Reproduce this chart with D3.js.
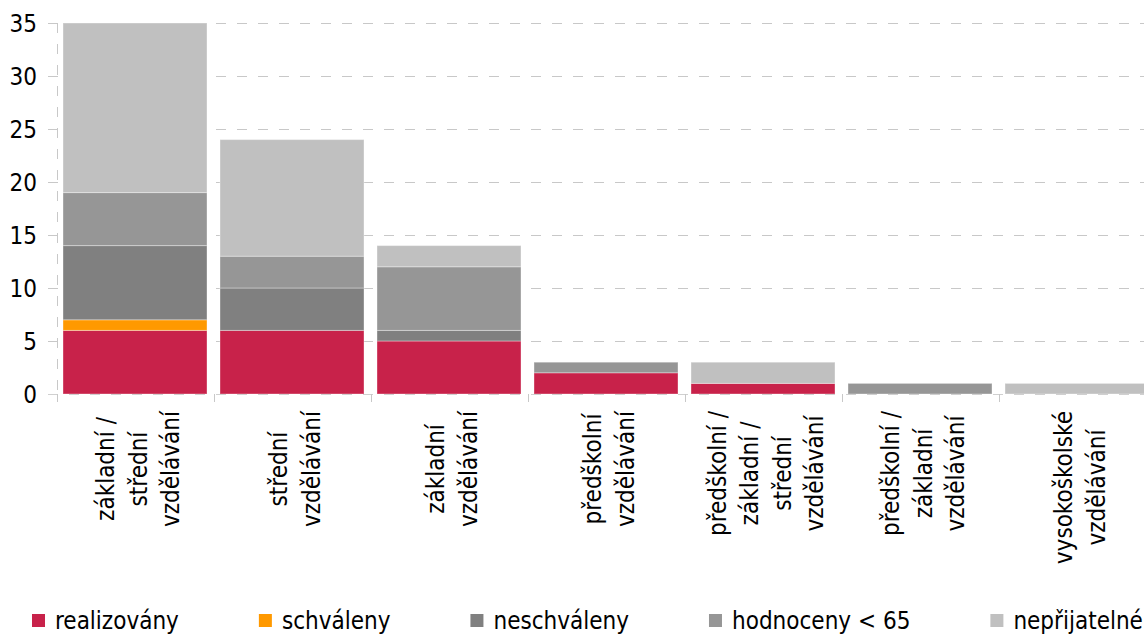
<!DOCTYPE html>
<html>
<head>
<meta charset="utf-8">
<script src="https://cdn.jsdelivr.net/npm/d3@7"></script>
<style>
    body { margin: 0; background: #fff; }
    svg { display: block; font-family: "DejaVu Sans Condensed", "DejaVu Sans", sans-serif; }
</style>
</head>
<body>
<div id="chart"></div>
<script>
const categories = [
    ["základní /", "střední", "vzdělávání"],
    ["střední", "vzdělávání"],
    ["základní", "vzdělávání"],
    ["předškolní", "vzdělávání"],
    ["předškolní /", "základní /", "střední", "vzdělávání"],
    ["předškolní /", "základní", "vzdělávání"],
    ["vysokoškolské", "vzdělávání"]
];
const seriesNames = ["realizovány", "schváleny", "neschváleny", "hodnoceny < 65", "nepřijatelné"];
const seriesColors = ["#c8224a", "#ff9900", "#808080", "#969696", "#c0c0c0"];

const realizovany  = [6, 6, 5, 2, 1, 0, 0];
const schvaleny    = [1, 0, 0, 0, 0, 0, 0];
const neschvaleny  = [7, 4, 1, 0, 0, 0, 0];
const hodnoceny    = [5, 3, 6, 1, 0, 1, 0];
const neprijatelne = [16, 11, 2, 0, 2, 0, 1];

const yTicks = [0, 5, 10, 15, 20, 25, 30, 35];

const width = 1144, height = 635;
const margin = {top: 23, left: 57, bottom: 241};
const plotRight = 1156;

const svg = d3.select("#chart").append("svg")
    .attr("width", width)
    .attr("height", height);

const x = d3.scaleBand()
    .domain(d3.range(categories.length))
    .range([margin.left, plotRight])
    .paddingInner(0.08)
    .paddingOuter(0.04);

const y = d3.scaleLinear()
    .domain([0, 35])
    .range([height - margin.bottom, margin.top]);

const y0 = y(0);

// gridlines
svg.append("g")
    .selectAll("line")
    .data(yTicks.filter(d => d > 0))
    .join("line")
    .attr("x1", margin.left - 9)
    .attr("x2", plotRight)
    .attr("y1", d => Math.round(y(d)) + 0.5)
    .attr("y2", d => Math.round(y(d)) + 0.5)
    .attr("stroke", "#c8c8c8")
    .attr("stroke-dasharray", "10,11");

// stacked bars
const rows = categories.map((c, i) => {
    return {
        i: i,
        realizovany: realizovany[i],
        schvaleny: schvaleny[i],
        neschvaleny: neschvaleny[i],
        hodnoceny: hodnoceny[i],
        neprijatelne: neprijatelne[i]
    };
});
const keys = ["realizovany", "schvaleny", "neschvaleny", "hodnoceny", "neprijatelne"];
const stacked = d3.stack().keys(keys)(rows);

svg.append("g")
    .selectAll("g")
    .data(stacked)
    .join("g")
    .attr("fill", (d, k) => seriesColors[k])
    .selectAll("rect")
    .data(d => d.filter(s => s[1] - s[0] > 0))
    .join("rect")
    .attr("x", d => Math.round(x(d.data.i)))
    .attr("y", d => y(d[1]))
    .attr("width", Math.round(x.bandwidth()))
    .attr("height", d => y(d[0]) - y(d[1]))
    .attr("stroke", "rgba(255,255,255,0.35)")
    .attr("stroke-width", 1);

// y axis
const yAxis = svg.append("g");
yAxis.append("line")
    .attr("x1", margin.left + 0.5)
    .attr("x2", margin.left + 0.5)
    .attr("y1", margin.top)
    .attr("y2", y0 + 7)
    .attr("stroke", "#c8c8c8")
    .attr("stroke-dasharray", "10,11");
yAxis.selectAll("text")
    .data(yTicks)
    .join("text")
    .attr("x", 37)
    .attr("y", d => y(d))
    .attr("dy", "0.36em")
    .attr("text-anchor", "end")
    .attr("font-size", 24)
    .attr("fill", "#000")
    .text(d => d);

// x axis (drawn over bars)
const xAxis = svg.append("g");
xAxis.append("line")
    .attr("x1", margin.left - 9)
    .attr("x2", plotRight)
    .attr("y1", Math.round(y0) + 0.5)
    .attr("y2", Math.round(y0) + 0.5)
    .attr("stroke", "#d0d0d0")
    .attr("stroke-dasharray", "10,11");
const step = x.step();
xAxis.selectAll("line.tick")
    .data(d3.range(categories.length + 1))
    .join("line")
    .attr("class", "tick")
    .attr("x1", d => Math.round(margin.left + d * step) + 0.5)
    .attr("x2", d => Math.round(margin.left + d * step) + 0.5)
    .attr("y1", Math.round(y0))
    .attr("y2", Math.round(y0) + 8)
    .attr("stroke", "#c8c8c8");

// category labels, rotated
const lineGap = 32.5;
const labelTop = 411;
const lab = svg.append("g")
    .selectAll("g")
    .data(categories)
    .join("g")
    .attr("font-size", 24)
    .attr("fill", "#000");

lab.each(function(lines, i) {
    const g = d3.select(this);
    const cx = x(i) + x.bandwidth() / 2;
    const tmp = g.append("text");
    const w = d3.max(lines, l => { tmp.text(l); return tmp.node().getComputedTextLength(); });
    tmp.remove();
    const midY = labelTop + w / 2;
    const n = lines.length;
    lines.forEach((l, j) => {
        const off = (j - (n - 1) / 2) * lineGap;
        g.append("text")
            .attr("transform", `translate(${cx + off + 11},${midY}) rotate(-90)`)
            .attr("text-anchor", "middle")
            .text(l);
    });
});

// legend: swatch, text, then a fixed gap to the next item
const legend = svg.append("g").attr("transform", "translate(32,614)");
let lx = 0;
seriesNames.forEach((name, i) => {
    const item = legend.append("g").attr("transform", `translate(${lx},0)`);
    item.append("rect")
        .attr("width", 13)
        .attr("height", 13)
        .attr("fill", seriesColors[i]);
    const t = item.append("text")
        .attr("x", 23)
        .attr("y", 6.5)
        .attr("dy", "0.36em")
        .attr("font-size", 24)
        .attr("fill", "#000")
        .text(name);
    lx += 23 + t.node().getComputedTextLength() + 80;
});
</script>
</body>
</html>
